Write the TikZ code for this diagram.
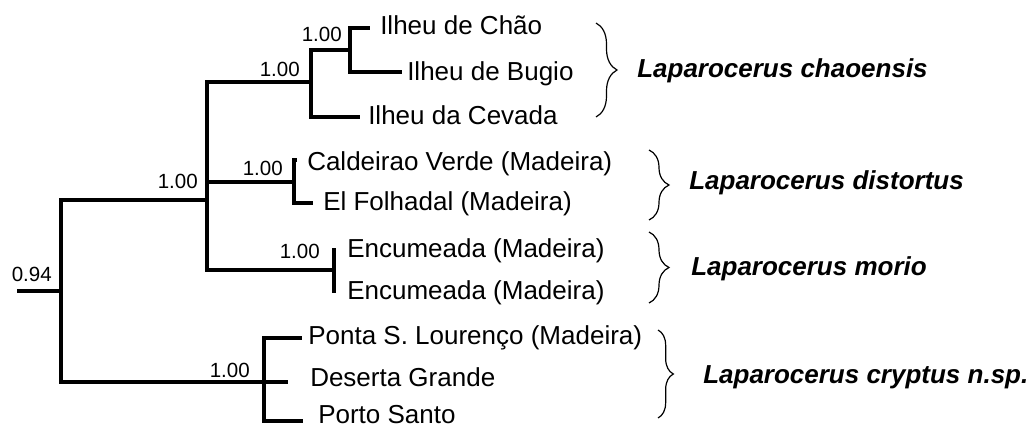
\documentclass[tikz,border=0pt]{standalone}
\usepackage{fontspec}
\setmainfont{Liberation Sans}
\usetikzlibrary{decorations.pathreplacing}

\begin{document}
\begin{tikzpicture}[x=0.75pt,y=0.75pt,yscale=-1,xscale=1,
  branch/.style={line width=2.4pt},
  leaf/.style={anchor=base west,inner sep=0pt,font=\fontsize{19.5}{22}\selectfont},
  taxon/.style={anchor=base west,inner sep=0pt,font=\fontsize{19.5}{22}\selectfont\bfseries\itshape},
  supp/.style={anchor=base east,inner sep=0pt,font=\fontsize{15.4}{18}\selectfont},
  clade/.style={line width=0.9pt,decorate,decoration={brace,amplitude=#1}}]
\useasboundingbox (0,0) rectangle (1032,428);

%Tree nodes
\coordinate (stub) at (17,291);
\coordinate (root) at (61,291);
\coordinate (nA) at (207,200);
\coordinate (nC) at (311,82);
\coordinate (nCB) at (350,50);
\coordinate (tChao) at (370,28);
\coordinate (tBugio) at (402,72);
\coordinate (tCev) at (360,117);
\coordinate (nD) at (294,182);
\coordinate (tCald) at (297,160);
\coordinate (tFolh) at (313,203);
\coordinate (nM) at (334,270);
\coordinate (tEnc1) at (334,248);
\coordinate (tEnc2) at (334,293);
\coordinate (nP) at (264,382);
\coordinate (tPonta) at (302,338);
\coordinate (tDes) at (288,382);
\coordinate (tPorto) at (303,421);

%Branches
\draw [branch] (stub) -- (root);
\draw [branch] (root) |- (nA);
\draw [branch] (root) |- (nP);
\draw [branch] (nA) |- (nC);
\draw [branch] (nA) |- (nD);
\draw [branch] (nA) |- (nM);
\draw [branch] (nC) |- (nCB);
\draw [branch] (nC) |- (tCev);
\draw [branch] (nCB) |- (tChao);
\draw [branch] (nCB) |- (tBugio);
\draw [branch] (nD) |- (tCald);
\draw [branch] (nD) |- (tFolh);
\draw [branch] (nM) |- (tEnc1);
\draw [branch] (nM) |- (tEnc2);
\draw [branch] (nP) |- (tPonta);
\draw [branch] (nP) |- (tDes);
\draw [branch] (nP) |- (tPorto);

% Text Node
\node [supp] (bRoot) at (52,281) {0.94};
\node [supp] (bA) at (198,188) {1.00};
\node [supp] (bC) at (300,77) {1.00};
\node [supp] (bCB) at (342,42) {1.00};
\node [supp] (bD) at (283,175) {1.00};
\node [supp] (bM) at (320,258) {1.00};
\node [supp] (bP) at (250,377) {1.00};

% Text Node
\node [leaf] (lChao) at (380,35) {Ilheu de Chão};
\node [leaf] (lBugio) at (407,80) {Ilheu de Bugio};
\node [leaf] (lCev) at (368,124) {Ilheu da Cevada};
\node [leaf] (lCald) at (307,170) {Caldeirao Verde (Madeira)};
\node [leaf] (lFolh) at (323,210) {El Folhadal (Madeira)};
\node [leaf] (lEnc1) at (347,257) {Encumeada (Madeira)};
\node [leaf] (lEnc2) at (347,299) {Encumeada (Madeira)};
\node [leaf] (lPonta) at (308,344) {Ponta S. Lourenço (Madeira)};
\node [leaf] (lDes) at (310,386) {Deserta Grande};
\node [leaf] (lPorto) at (318,423) {Porto Santo};

%Braces
\draw [clade=15.75pt] (596,23) -- (596,117);
\draw [clade=15pt] (649,150) -- (649,220);
\draw [clade=15pt] (649,232) -- (649,303);
\draw [clade=11.5pt] (658,330) -- (658,418);

% Text Node
\node [taxon] (sChao) at (637,78) {Laparocerus chaoensis};
\node [taxon] (sDist) at (689,189) {Laparocerus distortus};
\node [taxon] (sMorio) at (691,275) {Laparocerus morio};
\node [taxon] (sCrypt) at (703,383) {Laparocerus cryptus n.sp.};
\end{tikzpicture}
\end{document}
